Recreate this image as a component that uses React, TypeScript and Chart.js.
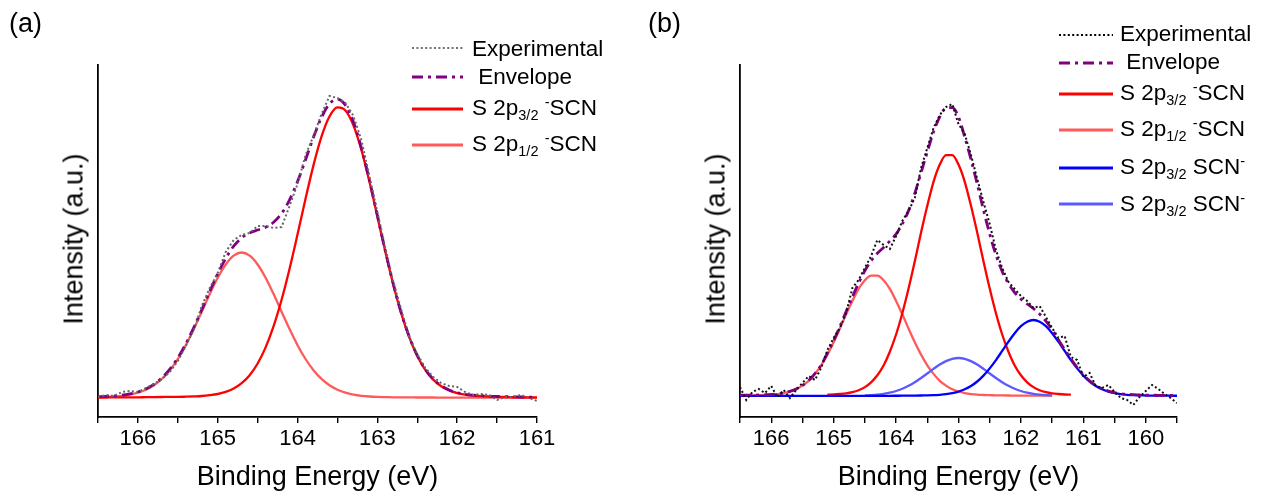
import React, { useEffect, useRef } from 'react';
import { Chart, registerables } from 'chart.js';

Chart.register(...registerables);

const FONT = "'Liberation Sans', Arial, Helvetica, sans-serif";

// ---------- Panel (a) ----------
const energyA = [
  166.5, 166.4, 166.3, 166.2, 166.1, 166.0, 165.9, 165.8, 165.7, 165.6,
  165.5, 165.4, 165.3, 165.2, 165.1, 165.0, 164.9, 164.8, 164.7, 164.6,
  164.5, 164.4, 164.3, 164.2, 164.1, 164.0, 163.9, 163.8, 163.7, 163.6,
  163.5, 163.4, 163.3, 163.2, 163.1, 163.0, 162.9, 162.8, 162.7, 162.6,
  162.5, 162.4, 162.3, 162.2, 162.1, 162.0, 161.9, 161.8, 161.7, 161.6,
  161.5, 161.4, 161.3, 161.2, 161.1, 161.0,
];
const expA = [
  1, 3, 2, 6, 7, 6, 10, 14, 19, 26,
  37, 52, 68, 92, 110, 125, 146, 158, 163, 165,
  172, 172, 170, 171, 192, 214, 243, 262, 284, 302,
  300, 295, 282, 258, 222, 186, 150, 116, 88, 61,
  44, 30, 21, 15, 12, 11, 6, 3, 4, 3,
  -2, 1, 1, 3, 0, -3,
];
const envA = [
  1.4, 1.6, 2.1, 2.8, 4.1, 6.0, 9.1, 13.6, 20.1, 28.9,
  40.1, 54.1, 70.5, 88.3, 106.7, 124.2, 139.6, 151.8, 160.3, 165.1,
  168.0, 170.8, 175.7, 184.5, 198.2, 216.5, 238.2, 260.7, 280.5, 294.2,
  298.9, 292.8, 276.1, 250.2, 218.0, 182.6, 147.1, 113.9, 84.9, 61.2,
  42.5, 28.7, 18.9, 12.2, 8.0, 5.3, 3.7, 2.8, 2.3, 1.8,
  1.5, 1.3, 1.2, 1.0, 0.9, 0.9,
];
const p32A = [
  0.5, 0.5, 0.6, 0.6, 0.7, 0.7, 0.8, 0.9, 1.0, 1.1,
  1.1, 1.3, 1.6, 2.0, 2.8, 4.0, 6.1, 9.5, 14.8, 22.8,
  34.5, 50.6, 71.8, 98.2, 129.3, 163.7, 199.2, 232.9, 261.4, 281.5,
  290.6, 287.5, 272.7, 248.0, 216.5, 181.5, 146.2, 113.2, 84.3, 60.6,
  42.0, 28.2, 18.4, 11.8, 7.6, 4.9, 3.3, 2.4, 1.9, 1.5,
  1.2, 1.0, 0.9, 0.8, 0.7, 0.7,
];
const p12A = [
  0.9, 1.1, 1.5, 2.2, 3.4, 5.3, 8.3, 12.7, 19.1, 27.8,
  39.0, 52.8, 68.9, 86.3, 103.9, 120.2, 133.5, 142.3, 145.5, 142.3,
  133.5, 120.2, 103.9, 86.3, 68.9, 52.8, 39.0, 27.8, 19.1, 12.7,
  8.3, 5.3, 3.4, 2.2, 1.5, 1.1, 0.9, 0.7, 0.6, 0.6,
  0.5, 0.5, 0.5, 0.4, 0.4, 0.4, 0.35, 0.35, 0.3, 0.3,
  0.3, 0.3, 0.25, 0.25, 0.2, 0.2,
];

// ---------- Panel (b) ----------
const energyB = [
  166.5, 166.4, 166.3, 166.2, 166.1, 166.0, 165.9, 165.8, 165.7, 165.6,
  165.5, 165.4, 165.3, 165.2, 165.1, 165.0, 164.9, 164.8, 164.7, 164.6,
  164.5, 164.4, 164.3, 164.2, 164.1, 164.0, 163.9, 163.8, 163.7, 163.6,
  163.5, 163.4, 163.3, 163.2, 163.1, 163.0, 162.9, 162.8, 162.7, 162.6,
  162.5, 162.4, 162.3, 162.2, 162.1, 162.0, 161.9, 161.8, 161.7, 161.6,
  161.5, 161.4, 161.3, 161.2, 161.1, 161.0, 160.9, 160.8, 160.7, 160.6,
  160.5, 160.4, 160.3, 160.2, 160.1, 160.0, 159.9, 159.8, 159.7, 159.6,
  159.5,
];
const expB = [
  9, -4, 4, 7, 3, 10, -1, 6, -2, 6,
  13, 20, 16, 28, 46, 58, 68, 83, 108, 116,
  128, 140, 156, 151, 147, 160, 175, 185, 198, 228,
  248, 268, 281, 289, 292, 272, 262, 241, 217, 194,
  172, 146, 128, 114, 107, 100, 95, 88, 90, 79,
  68, 58, 60, 39, 36, 19, 23, 10, 8, 11,
  4, -2, -4, -9, -1, 5, 11, 7, 2, -2,
  -7,
];
const envB = [
  0.8, 0.8, 0.9, 1.0, 1.2, 1.5, 2.1, 3.1, 4.7, 7.0,
  10.6, 15.4, 22.4, 31.0, 42.8, 55.3, 69.5, 84.5, 99.1, 113.0,
  125.3, 135.2, 142.7, 148.6, 154.9, 161.9, 172.1, 185.4, 202.7, 223.3,
  244.0, 264.2, 279.2, 288.0, 288.5, 279.0, 259.0, 236.5, 212.0, 186.0,
  162.0, 141.0, 124.5, 112.5, 103.5, 97.0, 92.0, 87.5, 81.9, 74.9,
  66.4, 56.3, 46.6, 37.2, 28.5, 21.2, 15.3, 10.7, 7.3, 4.9,
  3.3, 2.3, 1.7, 1.3, 1.0, 0.9, 0.8, 0.7, 0.65, 0.6,
  0.6,
];
const p32B = [
  null, null, null, null, null, null, null, null, null, null,
  null, null, null, null, 1.3, 1.5, 2.0, 2.7, 3.9, 5.8,
  8.9, 13.7, 20.7, 30.5, 44.3, 61.5, 82.8, 107.5, 134.8, 163.4,
  190.2, 214.2, 231.4, 240.9, 240.9, 231.4, 214.2, 190.2, 163.4, 134.8,
  107.5, 82.8, 61.5, 44.3, 30.5, 20.7, 13.7, 8.9, 5.8, 3.9,
  2.7, 2.0, 1.5, 1.3, null, null, null, null, null, null,
  null, null, null, null, null, null, null, null, null, null,
  null,
];
const p12B = [
  0.5, 0.55, 0.6, 0.8, 1.0, 1.3, 1.9, 2.9, 4.5, 6.8,
  10.4, 15.2, 22.1, 30.7, 41.4, 53.7, 67.4, 81.7, 95.1, 107.1,
  115.7, 120.4, 120.4, 115.7, 107.1, 95.1, 81.7, 67.4, 53.7, 41.4,
  30.7, 22.1, 15.2, 10.4, 6.8, 4.5, 2.9, 1.9, 1.3, 1.0,
  0.8, 0.6, 0.55, 0.5, 0.45, 0.4, 0.4, 0.35, 0.35, 0.3,
  0.3, null, null, null, null, null, null, null, null, null,
  null, null, null, null, null, null, null, null, null, null,
  null,
];
const scnBlueB = [
  0.1, 0.1, 0.1, 0.1, 0.1, 0.1, 0.1, 0.1, 0.1, 0.1,
  0.1, 0.1, 0.1, 0.1, 0.1, 0.1, 0.1, 0.1, 0.1, 0.1,
  0.1, 0.15, 0.15, 0.2, 0.2, 0.25, 0.3, 0.3, 0.4, 0.5,
  0.6, 0.8, 1.2, 1.8, 2.8, 4.3, 6.7, 10.0, 14.5, 20.4,
  27.6, 35.9, 45.1, 54.3, 62.8, 69.8, 74.3, 76.0, 74.3, 69.8,
  62.8, 54.3, 45.1, 35.9, 27.6, 20.4, 14.5, 10.0, 6.7, 4.3,
  2.8, 1.8, 1.2, 0.8, 0.6, 0.5, 0.4, 0.3, 0.3, 0.25,
  0.25,
];
const scnLightB = [
  null, null, null, null, null, null, null, null, null, null,
  null, null, null, null, null, null, null, null, null, null,
  0.6, 0.9, 1.4, 2.2, 3.3, 5.0, 7.3, 10.2, 13.8, 18.0,
  22.5, 27.1, 31.4, 34.9, 37.2, 38.0, 37.2, 34.9, 31.4, 27.1,
  22.5, 18.0, 13.8, 10.2, 7.3, 5.0, 3.3, 2.2, 1.4, 0.9,
  0.6, null, null, null, null, null, null, null, null, null,
  null, null, null, null, null, null, null, null, null, null,
  null,
];

const RED = '#ff0000';
const LIGHT_RED = '#ff5a5a';
const BLUE = '#0000ff';
const LIGHT_BLUE = '#5a5aff';
const PURPLE = '#800080';
const ENV_DASH = [11, 5, 3, 5];
const EXP_DASH = [2, 2.4];

type Series = {
  label: string;
  values: (number | null)[];
  color: string;
  width: number;
  dash?: number[];
  smooth: boolean;
};

type PanelProps = {
  left: number;
  energy: number[];
  series: Series[];
  xMin: number;
  xMax: number;
  yMin: number;
  yMax: number;
  plotLeft: number;
  plotRight: number;
};

function Panel({ left, energy, series, xMin, xMax, yMin, yMax, plotLeft, plotRight }: PanelProps) {
  const ref = useRef<HTMLCanvasElement>(null);
  useEffect(() => {
    if (!ref.current) return;
    const chart = new Chart(ref.current, {
      type: 'line',
      data: {
        datasets: series.map((s) => ({
          label: s.label,
          data: energy.map((x, i) => ({ x, y: s.values[i] })),
          borderColor: s.color,
          borderWidth: s.width,
          borderDash: s.dash ?? [],
          pointRadius: 0,
          fill: false,
          cubicInterpolationMode: s.smooth ? 'monotone' : 'default',
          tension: 0,
          spanGaps: false,
        })) as any,
      },
      options: {
        responsive: false,
        animation: false,
        devicePixelRatio: 1,
        events: [],
        layout: { padding: { top: 65, right: 634 - plotRight, left: 0, bottom: 0 } },
        plugins: { legend: { display: false }, tooltip: { enabled: false } },
        scales: {
          x: {
            type: 'linear',
            reverse: true,
            min: xMin,
            max: xMax,
            afterFit: (s: any) => {
              s.height = 83;
            },
            ticks: {
              stepSize: 0.5,
              autoSkip: false,
              maxRotation: 0,
              padding: 3,
              color: '#000',
              font: { family: FONT, size: 22 },
              callback: (v: any) => (Math.abs(v - Math.round(v)) < 1e-6 ? String(Math.round(v)) : ''),
            },
            grid: {
              display: true,
              drawOnChartArea: false,
              drawTicks: true,
              tickLength: 6,
              color: '#000',
              lineWidth: 1.4,
            },
            border: { display: true, color: '#000', width: 1.8 },
          },
          y: {
            type: 'linear',
            min: yMin,
            max: yMax,
            afterFit: (s: any) => {
              s.width = plotLeft;
            },
            ticks: { display: false },
            grid: { display: false },
            border: { display: true, color: '#000', width: 1.8 },
          },
        },
      } as any,
    });
    return () => chart.destroy();
  }, []);
  return (
    <canvas
      ref={ref}
      width={634}
      height={500}
      style={{ position: 'absolute', left, top: 0, width: 634, height: 500, display: 'block' }}
    />
  );
}

type Row = {
  lineY: number;
  base: number;
  stroke: string;
  strokeWidth: number;
  dash?: string;
  text: React.ReactNode;
};

const subStyle: React.CSSProperties = { fontSize: 14.5, position: 'relative', top: 5, lineHeight: 0 };
const supStyle: React.CSSProperties = { fontSize: 14.5, position: 'relative', top: -8, lineHeight: 0 };

function Legend({ lineX, lineW, textX, rows }: { lineX: number; lineW: number; textX: number; rows: Row[] }) {
  return (
    <>
      {rows.map((r, i) => (
        <React.Fragment key={i}>
          <svg
            width={lineW}
            height={8}
            style={{ position: 'absolute', left: lineX, top: r.lineY - 4, overflow: 'visible' }}
          >
            <line
              x1={0}
              y1={4}
              x2={lineW}
              y2={4}
              stroke={r.stroke}
              strokeWidth={r.strokeWidth}
              strokeDasharray={r.dash}
            />
          </svg>
          <div
            style={{
              position: 'absolute',
              left: textX,
              top: r.base - 19,
              fontFamily: FONT,
              fontSize: 22.5,
              lineHeight: '22.5px',
              whiteSpace: 'nowrap',
              color: '#000',
            }}
          >
            {r.text}
          </div>
        </React.Fragment>
      ))}
    </>
  );
}

const p32Text = (
  <>
    S 2p<span style={subStyle}>3/2</span> <span style={supStyle}>-</span>SCN
  </>
);
const p12Text = (
  <>
    S 2p<span style={subStyle}>1/2</span> <span style={supStyle}>-</span>SCN
  </>
);
const scnText = (
  <>
    S 2p<span style={subStyle}>3/2</span> SCN<span style={supStyle}>-</span>
  </>
);

const textBase: React.CSSProperties = {
  position: 'absolute',
  fontFamily: FONT,
  color: '#000',
  whiteSpace: 'nowrap',
};

export default function App() {
  useEffect(() => {
    document.body.style.margin = '0';
    document.body.style.background = '#fff';
  }, []);

  const seriesA: Series[] = [
    { label: 'Experimental', values: expA, color: '#666666', width: 2, dash: EXP_DASH, smooth: false },
    { label: 'Envelope', values: envA, color: PURPLE, width: 2.8, dash: ENV_DASH, smooth: true },
    { label: 'S 2p3/2 -SCN', values: p32A, color: RED, width: 2.3, smooth: true },
    { label: 'S 2p1/2 -SCN', values: p12A, color: LIGHT_RED, width: 2.3, smooth: true },
  ];
  const seriesB: Series[] = [
    { label: 'Experimental', values: expB, color: '#111111', width: 2, dash: EXP_DASH, smooth: false },
    { label: 'Envelope', values: envB, color: PURPLE, width: 2.8, dash: ENV_DASH, smooth: true },
    { label: 'S 2p3/2 SCN-', values: scnBlueB, color: BLUE, width: 2.3, smooth: true },
    { label: 'S 2p3/2 SCN- (2)', values: scnLightB, color: LIGHT_BLUE, width: 2.3, smooth: true },
    { label: 'S 2p3/2 -SCN', values: p32B, color: RED, width: 2.3, smooth: true },
    { label: 'S 2p1/2 -SCN', values: p12B, color: LIGHT_RED, width: 2.3, smooth: true },
  ];

  const rowsA: Row[] = [
    { lineY: 48, base: 57, stroke: '#707070', strokeWidth: 2, dash: '2 2.4', text: 'Experimental' },
    { lineY: 77, base: 85, stroke: PURPLE, strokeWidth: 3, dash: '11 5 3 5', text: '\u00a0Envelope' },
    { lineY: 109, base: 116, stroke: RED, strokeWidth: 3, text: p32Text },
    { lineY: 145, base: 152, stroke: LIGHT_RED, strokeWidth: 3, text: p12Text },
  ];
  const rowsB: Row[] = [
    { lineY: 35, base: 42, stroke: '#000', strokeWidth: 2, dash: '2 2.4', text: 'Experimental' },
    { lineY: 63, base: 70, stroke: PURPLE, strokeWidth: 3, dash: '11 5 3 5', text: '\u00a0Envelope' },
    { lineY: 94, base: 101, stroke: RED, strokeWidth: 3, text: p32Text },
    { lineY: 130, base: 137, stroke: LIGHT_RED, strokeWidth: 3, text: p12Text },
    { lineY: 168, base: 175, stroke: BLUE, strokeWidth: 3, text: scnText },
    { lineY: 204, base: 212, stroke: LIGHT_BLUE, strokeWidth: 3, text: scnText },
  ];

  return (
    <div style={{ position: 'relative', width: 1268, height: 500, background: '#fff', overflow: 'hidden' }}>
      <Panel
        left={0}
        energy={energyA}
        series={seriesA}
        xMin={161}
        xMax={166.5}
        yMin={-19}
        yMax={333}
        plotLeft={98}
        plotRight={537}
      />
      <Panel
        left={634}
        energy={energyB}
        series={seriesB}
        xMin={159.5}
        xMax={166.5}
        yMin={-21}
        yMax={331}
        plotLeft={106}
        plotRight={543}
      />

      <div style={{ ...textBase, left: 9, top: 10, fontSize: 27, lineHeight: '27px' }}>(a)</div>
      <div style={{ ...textBase, left: 648, top: 10, fontSize: 27, lineHeight: '27px' }}>(b)</div>

      <div
        style={{
          ...textBase,
          left: 317.5,
          top: 463,
          fontSize: 27,
          lineHeight: '27px',
          transform: 'translateX(-50%)',
        }}
      >
        Binding Energy (eV)
      </div>
      <div
        style={{
          ...textBase,
          left: 958.5,
          top: 463,
          fontSize: 27,
          lineHeight: '27px',
          transform: 'translateX(-50%)',
        }}
      >
        Binding Energy (eV)
      </div>

      <div
        style={{
          ...textBase,
          left: 74,
          top: 239,
          fontSize: 27,
          lineHeight: '27px',
          transform: 'translate(-50%, -50%) rotate(-90deg)',
        }}
      >
        Intensity (a.u.)
      </div>
      <div
        style={{
          ...textBase,
          left: 716,
          top: 239,
          fontSize: 27,
          lineHeight: '27px',
          transform: 'translate(-50%, -50%) rotate(-90deg)',
        }}
      >
        Intensity (a.u.)
      </div>

      <Legend lineX={412} lineW={51} textX={472} rows={rowsA} />
      <Legend lineX={1059} lineW={54} textX={1120} rows={rowsB} />
    </div>
  );
}
